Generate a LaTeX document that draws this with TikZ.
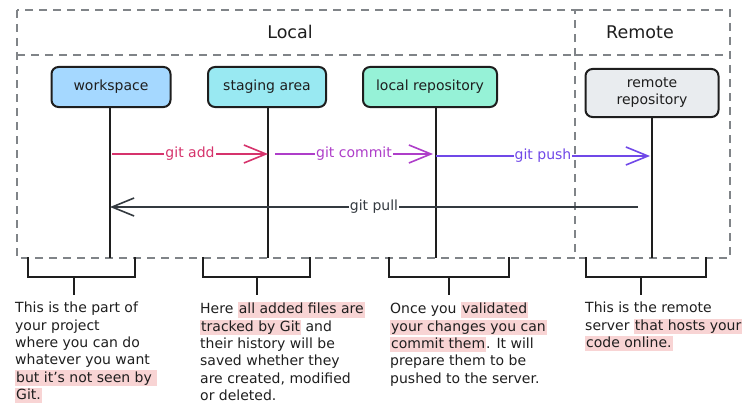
\documentclass[tikz,border=0pt]{standalone}
\usepackage{fontspec}
\setmainfont{DejaVu Sans}
\usetikzlibrary{arrows.meta, positioning}
\definecolor{inkdark}{HTML}{1E1E1E}
\definecolor{wsfill}{HTML}{A5D8FF}
\definecolor{safill}{HTML}{99E9F2}
\definecolor{lrfill}{HTML}{96F2D7}
\definecolor{rrfill}{HTML}{E9ECEF}
\definecolor{zonegray}{HTML}{808488}
\definecolor{addcolor}{HTML}{D6336C}
\definecolor{commitcolor}{HTML}{AE3EC9}
\definecolor{pushcolor}{HTML}{7048E8}
\definecolor{pullcolor}{HTML}{343A40}
\definecolor{hlpink}{HTML}{F8D4D4}
\newcommand{\hl}[1]{{\setlength{\fboxsep}{1pt}\colorbox{hlpink}{\rule[-3pt]{0pt}{13pt}#1}}}
\begin{document}
\begin{tikzpicture}[x = 1pt, y = -1pt,
		zone/.style = {draw = zonegray, line width = 2.6pt, dash pattern = on 8pt off 6pt},
		stage/.style = {draw = inkdark, line width = 2pt, rounded corners = 7pt, minimum height = 40pt, align = center, text = inkdark, font = \fontsize{14}{17}\selectfont},
		lifeline/.style = {draw = inkdark, line width = 2pt},
		gitarrow/.style = {line width = 1.6pt, -{Straight Barb[length = 22pt, width = 18pt]}},
		gitlabel/.style = {midway, fill = white, inner sep = 1pt, font = \fontsize{14}{16}\selectfont},
		brace/.style = {draw = inkdark, line width = 2pt},
		note/.style = {anchor = north west, align = left, inner sep = 0pt, text = inkdark, font = \fontsize{14}{17.3}\selectfont},
		title/.style = {text = inkdark, font = \fontsize{17.5}{20}\selectfont}]
	\useasboundingbox (0, 0) rectangle (752, 412);
	\draw[zone] (17, 10) rectangle (575, 258);
	\draw[zone] (17, 55) -- (575, 55);
	\draw[zone] (575, 10) -- (730, 10) -- (730, 258) -- (575, 258);
	\draw[zone] (575, 55) -- (730, 55);
		\node[title] (local title) at (290, 32) {Local};
		\node[title] (remote title) at (640, 32) {Remote};
	\node[stage, fill = wsfill, minimum width = 119pt] (ws) at (111, 87) {workspace};
	\node[stage, fill = safill, minimum width = 118pt] (sa) at (267, 87) {staging area};
	\node[stage, fill = lrfill, minimum width = 134pt] (lr) at (430, 87) {local repository};
	\node[stage, fill = rrfill, minimum width = 133pt, minimum height = 48pt] (rr) at (652, 93) {remote\\repository};
	\coordinate (ws end) at (110, 258);
	\coordinate (sa end) at (268, 258);
	\coordinate (lr end) at (436, 258);
	\coordinate (rr end) at (652, 258);
	\draw[lifeline] (ws.south -| ws end) -- (ws end);
	\draw[lifeline] (sa.south -| sa end) -- (sa end);
	\draw[lifeline] (lr.south -| lr end) -- (lr end);
	\draw[lifeline] (rr.south -| rr end) -- (rr end);
	\coordinate (add row) at (0, 154);
	\coordinate (push row) at (0, 156);
	\coordinate (pull row) at (0, 207);
	\draw[gitarrow, addcolor] ([xshift = 2]ws end |- add row) -- (sa end |- add row) node[gitlabel] {git add};
	\draw[gitarrow, commitcolor] ([xshift = 7]sa end |- add row) -- ([xshift = -3]lr end |- add row) node[gitlabel] {git commit};
	\draw[gitarrow, pushcolor] (lr end |- push row) -- ([xshift = -2]rr end |- push row) node[gitlabel] {git push};
	\draw[gitarrow, pullcolor] ([xshift = -14]rr end |- pull row) -- (ws end |- pull row) node[gitlabel] {git pull};
	\draw[brace] (28, 257) -- (28, 277) -- (135, 277) -- (135, 257);
	\draw[brace] (203, 257) -- (203, 277) -- (310, 277) -- (310, 257);
	\draw[brace] (389, 257) -- (389, 277) -- (509, 277) -- (509, 257);
	\draw[brace] (586, 257) -- (586, 277) -- (706, 277) -- (706, 257);
	\node[note] (ws note) at (15, 302) {This is the part of\\your project\\where you can do\\whatever you want\\\hl{but it's not seen by }\\\hl{Git.}};
	\node[note] (sa note) at (200, 302) {Here \hl{all added files are}\\\hl{tracked by Git} and\\their history will be\\saved whether they\\are created, modified\\or deleted.};
	\node[note] (lr note) at (390, 302) {Once you \hl{validated}\\\hl{your changes you can}\\\hl{commit them}. It will\\prepare them to be\\pushed to the server.};
	\node[note] (rr note) at (585, 302) {This is the remote\\server \hl{that hosts your}\\\hl{code online.}};
	\draw[brace] (74, 277) -- ([yshift = 7]ws note.north -| 74, 0);
	\draw[brace] (257, 277) -- ([yshift = 7]sa note.north -| 257, 0);
	\draw[brace] (449, 277) -- ([yshift = 7]lr note.north -| 449, 0);
	\draw[brace] (641, 277) -- ([yshift = 7]rr note.north -| 641, 0);
\end{tikzpicture}
\end{document}
